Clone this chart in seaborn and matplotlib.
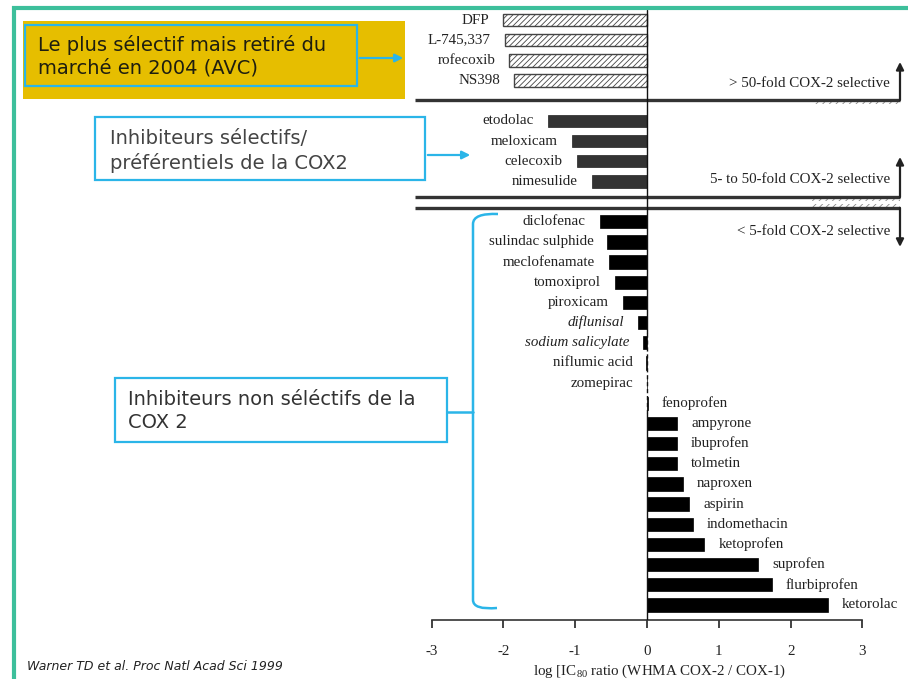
import numpy as np
import pandas as pd
import matplotlib
matplotlib.use("Agg")
import matplotlib.pyplot as plt
import seaborn as sns
from matplotlib.patches import Rectangle, FancyArrowPatch, PathPatch
from matplotlib.path import Path

# log IC80 ratio (WHMA COX-2 / COX-1)
top_names = ["DFP", "L-745,337", "rofecoxib", "NS398"]
top_vals = [-2.00, -1.98, -1.92, -1.85]

mid_names = ["etodolac", "meloxicam", "celecoxib", "nimesulide"]
mid_vals = [-1.38, -1.05, -0.98, -0.77]

low_names = ["diclofenac", "sulindac sulphide", "meclofenamate", "tomoxiprol",
             "piroxicam", "diflunisal", "sodium salicylate", "niflumic acid",
             "zomepirac", "fenoprofen", "ampyrone", "ibuprofen", "tolmetin",
             "naproxen", "aspirin", "indomethacin", "ketoprofen", "suprofen",
             "flurbiprofen", "ketorolac"]
low_vals = [-0.66, -0.55, -0.53, -0.45, -0.34, -0.13, -0.05, -0.01, 0.0,
            0.01, 0.42, 0.42, 0.42, 0.50, 0.59, 0.64, 0.80, 1.55, 1.74, 2.52]

italic_names = ["diflunisal", "sodium salicylate"]
group_labels = ["> 50-fold COX-2 selective",
                "5- to 50-fold COX-2 selective",
                "< 5-fold COX-2 selective"]
x_ticks = [-3, -2, -1, 0, 1, 2, 3]

box_texts = ["Le plus sélectif mais retiré du\nmarché en 2004 (AVC)",
             "Inhibiteurs sélectifs/\npréférentiels de la COX2",
             "Inhibiteurs non séléctifs de la\nCOX 2"]
citation = "Warner TD et al. Proc Natl Acad Sci 1999"

# ---- layout ----
W, H = 908, 679
TEAL = "#3dbf9b"
CYAN = "#2bb5e8"
GOLD = "#e6be00"

sns.set_style("white")
plt.rcParams["font.family"] = ["Liberation Serif", "DejaVu Serif"]
plt.rcParams["axes.unicode_minus"] = False
plt.rcParams["mathtext.default"] = "regular"
plt.rcParams["hatch.linewidth"] = 0.6


def fp(x, y):
    # pixel (from top-left) -> figure fraction
    return x / W, 1 - y / H


fig = plt.figure(figsize=(W / 100, H / 100), dpi=100)
ax_l, ax_r, ax_t, ax_b = 415, 905, 10, 620
ax = fig.add_axes([ax_l / W, 1 - ax_b / H, (ax_r - ax_l) / W, (ax_b - ax_t) / H])

top_rows = np.arange(len(top_names))
mid_rows = np.arange(5, 5 + len(mid_names))
low_rows = np.arange(10, 10 + len(low_names))

df_top = pd.DataFrame({"drug": top_names, "ratio": top_vals, "row": top_rows})
df_mid = pd.DataFrame({"drug": mid_names, "ratio": mid_vals, "row": mid_rows})
df_low = pd.DataFrame({"drug": low_names, "ratio": low_vals, "row": low_rows})

sns.barplot(data=df_top, x="ratio", y="row", orient="y", native_scale=True,
            width=0.62, color="white", saturation=1, edgecolor="#444",
            linewidth=1.0, errorbar=None, ax=ax)
for p in ax.patches:
    p.set_hatch("//////")
sns.barplot(data=df_mid, x="ratio", y="row", orient="y", native_scale=True,
            width=0.62, color="#333333", saturation=1, edgecolor="#222",
            linewidth=0.5, errorbar=None, ax=ax)
sns.barplot(data=df_low, x="ratio", y="row", orient="y", native_scale=True,
            width=0.66, color="black", saturation=1, edgecolor="black",
            linewidth=0.5, errorbar=None, ax=ax)

# drug labels next to the bars
for df in (df_top, df_mid, df_low):
    for name, val, row in zip(df["drug"], df["ratio"], df["row"]):
        side = 1 if val > 0 else -1
        ax.annotate(name, (val, row), xytext=(10 * side, 0),
                    textcoords="offset points", va="center",
                    ha="left" if side > 0 else "right", fontsize=10.8,
                    color="#222", style="italic" if name in italic_names else "normal")

px_per_unit = 71.83
x0_px = 647
xmin = (ax_l - x0_px) / px_per_unit
xmax = (ax_r - x0_px) / px_per_unit
row_px, row0_px = 20.17, 20
y_bottom = (ax_b - row0_px) / row_px
y_top = (ax_t - row0_px) / row_px
ax.set_xlim(xmin, xmax)
ax.set_ylim(y_bottom, y_top)

# zero line: solid, with a dashed stretch around the near-zero drugs
ax.plot([0, 0], [y_top, 15.5], color="#111", lw=1.0, zorder=4)
ax.plot([0, 0], [15.5, 19.5], color="#111", lw=1.0, ls=(0, (3, 2)), zorder=4)
ax.plot([0, 0], [19.5, y_bottom], color="#111", lw=1.0, zorder=4)

# group separators and arrows
x_arrow = (900 - x0_px) / px_per_unit
seps = [3.97, 8.78, 9.32]
tips = [2.08, 6.79, 11.25]
label_rows = [3.17, 7.93, 10.5]
for sep, tip, lab_y, lab in zip(seps, tips, label_rows, group_labels):
    ax.plot([xmin, x_arrow], [sep, sep], color="#333", lw=2.4,
            solid_capstyle="butt", clip_on=False)
    ax.annotate("", xy=(x_arrow, tip), xytext=(x_arrow, sep),
                arrowprops=dict(arrowstyle="-|>", lw=1.6, color="#222",
                                mutation_scale=11, shrinkA=0, shrinkB=0),
                annotation_clip=False)
    ax.text(x_arrow - 0.14, lab_y, lab, ha="right", va="center",
            fontsize=10.8, color="#222")
    off = 0.2 if tip < sep else -0.2
    ax.add_patch(Rectangle((2.30, min(sep, sep + off)), x_arrow - 2.30, abs(off),
                           fill=False, hatch="/////", lw=0, edgecolor="#888"))

for s in ["top", "right", "left"]:
    ax.spines[s].set_visible(False)
ax.spines["bottom"].set_bounds(-3, 3)
ax.spines["bottom"].set_linewidth(1.2)
ax.spines["bottom"].set_color("#333")
ax.set_xticks(x_ticks)
ax.set_xticklabels([str(t) for t in x_ticks])
ax.set_yticks([])
ax.set_ylabel("")
ax.tick_params(axis="x", length=6, width=1.2, pad=12, labelsize=10.8,
               colors="#222", bottom=True)
ax.set_xlabel("log [IC$_{80}$ ratio (WHMA COX-2 / COX-1)", fontsize=10.8,
              labelpad=3, color="#222")

# ---- slide decorations ----
fig.add_artist(plt.Line2D([fp(12, 0)[0], 1], [fp(0, 7.5)[1]] * 2, color=TEAL, lw=3,
                          solid_capstyle="butt"))
fig.add_artist(plt.Line2D([fp(14, 0)[0]] * 2, [fp(0, 6)[1], 0], color=TEAL, lw=3,
                          solid_capstyle="butt"))

# yellow callout
x, y = fp(23, 99)
fig.add_artist(Rectangle((x, y), 382 / W, 78 / H, transform=fig.transFigure,
                         color=GOLD, lw=0, zorder=1))
x, y = fp(25, 86)
fig.add_artist(Rectangle((x, y), 332 / W, 61 / H, transform=fig.transFigure,
                         fill=False, edgecolor=CYAN, lw=1.6, zorder=2))
fig.text(*fp(38, 56), box_texts[0], ha="left", va="center", fontsize=14,
         family="DejaVu Sans", color="#1e1e10", linespacing=1.25)
fig.add_artist(FancyArrowPatch(fp(357, 58), fp(406, 58), transform=fig.transFigure,
                               arrowstyle="-|>", mutation_scale=12, color=CYAN, lw=1.6))

# selective box
x, y = fp(95, 180)
fig.add_artist(Rectangle((x, y), 330 / W, 63 / H, transform=fig.transFigure,
                         facecolor="white", edgecolor=CYAN, lw=1.6))
fig.text(*fp(110, 151), box_texts[1], ha="left", va="center", fontsize=14,
         family="DejaVu Sans", color="#444", linespacing=1.3)
fig.add_artist(FancyArrowPatch(fp(425, 155), fp(473, 155), transform=fig.transFigure,
                               arrowstyle="-|>", mutation_scale=12, color=CYAN, lw=1.6))

# non-selective box and bracket
x, y = fp(115, 442)
fig.add_artist(Rectangle((x, y), 332 / W, 64 / H, transform=fig.transFigure,
                         facecolor="white", edgecolor=CYAN, lw=1.6))
fig.text(*fp(128, 411), box_texts[2], ha="left", va="center", fontsize=14,
         family="DejaVu Sans", color="#333", linespacing=1.3)
fig.add_artist(plt.Line2D([fp(447, 0)[0], fp(473, 0)[0]], [fp(0, 412)[1]] * 2,
                          color=CYAN, lw=1.8))
verts = [fp(498, 214), fp(473, 213), fp(473, 224), fp(473, 600),
         fp(473, 610), fp(497, 608)]
codes = [Path.MOVETO, Path.CURVE3, Path.CURVE3, Path.LINETO, Path.CURVE3, Path.CURVE3]
fig.add_artist(PathPatch(Path(verts, codes), transform=fig.transFigure,
                         fill=False, edgecolor=CYAN, lw=1.8))

fig.text(*fp(27, 667), citation, ha="left", va="center", fontsize=9,
         family="DejaVu Sans", style="italic", color="#222")

plt.savefig("out.png", dpi=100)
plt.close()
